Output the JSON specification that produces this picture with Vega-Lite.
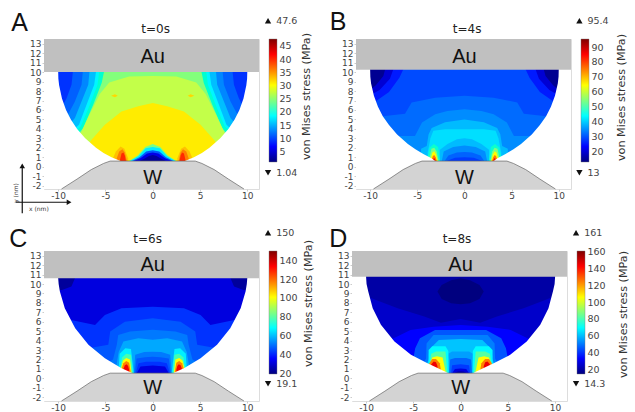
{"$schema":"https://vega.github.io/schema/vega-lite/v6.json","padding":{"left":8,"top":9,"right":0,"bottom":0},"background":"white",
"config":{"font":"DejaVu Sans","view":{"stroke":"#dddddd"},"concat":{"spacing":10},"axis":{"grid":false,"domain":false,"labelOverlap":false,"labelColor":"#444444","labelFontSize":9,"titleFontWeight":"normal","titleColor":"#333333"}},
"resolve":{"scale":{"color":"independent"}},
"datasets":{
"ab":[{"k":1,"v":8,"x":-11,"y":10.5},{"k":1,"v":8,"x":11,"y":10.5},
{"k":2,"v":10.5,"x":-9.6,"y":6.3},{"k":2,"v":10.5,"x":-9.1,"y":7.26},{"k":2,"v":10.5,"x":-8.59,"y":8.67},{"k":2,"v":10.5,"x":-8.4,"y":10.5},{"k":2,"v":10.5,"x":8.4,"y":10.5},{"k":2,"v":10.5,"x":8.59,"y":8.67},{"k":2,"v":10.5,"x":9.1,"y":7.26},{"k":2,"v":10.5,"x":9.6,"y":6.3},
{"k":3,"v":13,"x":-9.2,"y":5.2},{"k":3,"v":13,"x":-8.87,"y":5.68},{"k":3,"v":13,"x":-8.23,"y":6.9},{"k":3,"v":13,"x":-7.53,"y":8.67},{"k":3,"v":13,"x":-7.35,"y":10.5},{"k":3,"v":13,"x":7.35,"y":10.5},{"k":3,"v":13,"x":7.53,"y":8.67},{"k":3,"v":13,"x":8.23,"y":6.9},{"k":3,"v":13,"x":8.87,"y":5.68},{"k":3,"v":13,"x":9.2,"y":5.2},
{"k":4,"v":15.3,"x":-8.7,"y":4.6},{"k":4,"v":15.3,"x":-8.23,"y":5.15},{"k":4,"v":15.3,"x":-7.53,"y":6.9},{"k":4,"v":15.3,"x":-6.82,"y":8.67},{"k":4,"v":15.3,"x":-6.65,"y":10.5},{"k":4,"v":15.3,"x":6.65,"y":10.5},{"k":4,"v":15.3,"x":6.82,"y":8.67},{"k":4,"v":15.3,"x":7.53,"y":6.9},{"k":4,"v":15.3,"x":8.23,"y":5.15},{"k":4,"v":15.3,"x":8.7,"y":4.6},
{"k":5,"v":18,"x":-8.3,"y":4},{"k":5,"v":18,"x":-7.8,"y":4.45},{"k":5,"v":18,"x":-7,"y":6.56},{"k":5,"v":18,"x":-6.19,"y":8.67},{"k":5,"v":18,"x":-5.94,"y":10.5},{"k":5,"v":18,"x":5.94,"y":10.5},{"k":5,"v":18,"x":6.19,"y":8.67},{"k":5,"v":18,"x":7,"y":6.56},{"k":5,"v":18,"x":7.8,"y":4.45},{"k":5,"v":18,"x":8.3,"y":4},
{"k":6,"v":21,"x":-8.1,"y":3.8},{"k":6,"v":21,"x":-7.6,"y":4.27},{"k":6,"v":21,"x":-6.65,"y":6.56},{"k":6,"v":21,"x":-5.84,"y":8.67},{"k":6,"v":21,"x":-5.6,"y":10.5},{"k":6,"v":21,"x":5.6,"y":10.5},{"k":6,"v":21,"x":5.84,"y":8.67},{"k":6,"v":21,"x":6.65,"y":6.56},{"k":6,"v":21,"x":7.6,"y":4.27},{"k":6,"v":21,"x":8.1,"y":3.8},
{"k":7,"v":24.5,"x":-7.9,"y":3.4},{"k":7,"v":24.5,"x":-7.35,"y":4.1},{"k":7,"v":24.5,"x":-6.3,"y":6.56},{"k":7,"v":24.5,"x":-5.4,"y":8.85},{"k":7,"v":24.5,"x":-5.06,"y":10.5},{"k":7,"v":24.5,"x":5.06,"y":10.5},{"k":7,"v":24.5,"x":5.4,"y":8.85},{"k":7,"v":24.5,"x":6.3,"y":6.56},{"k":7,"v":24.5,"x":7.35,"y":4.1},{"k":7,"v":24.5,"x":7.9,"y":3.4},
{"k":8,"v":27.5,"x":-8,"y":3.2},{"k":8,"v":27.5,"x":-7.6,"y":3.6},{"k":8,"v":27.5,"x":-6.7,"y":5.5},{"k":8,"v":27.5,"x":-5.6,"y":7.7},{"k":8,"v":27.5,"x":-4.6,"y":8.9},{"k":8,"v":27.5,"x":-2.5,"y":9.55},{"k":8,"v":27.5,"x":0,"y":9.6},{"k":8,"v":27.5,"x":2.5,"y":9.55},{"k":8,"v":27.5,"x":4.6,"y":8.9},{"k":8,"v":27.5,"x":5.6,"y":7.7},{"k":8,"v":27.5,"x":6.7,"y":5.5},{"k":8,"v":27.5,"x":7.6,"y":3.6},{"k":8,"v":27.5,"x":8,"y":3.2},
{"k":9,"v":31,"x":-7.2,"y":1.8},{"k":9,"v":31,"x":-6.47,"y":2.86},{"k":9,"v":31,"x":-5.06,"y":4.45},{"k":9,"v":31,"x":-3.3,"y":5.85},{"k":9,"v":31,"x":-1.53,"y":6.4},{"k":9,"v":31,"x":0,"y":6.75},{"k":9,"v":31,"x":1.53,"y":6.4},{"k":9,"v":31,"x":3.3,"y":5.85},{"k":9,"v":31,"x":5.06,"y":4.45},{"k":9,"v":31,"x":6.47,"y":2.86},{"k":9,"v":31,"x":7.2,"y":1.8},
{"k":10,"v":24,"x":-2.5,"y":0.6},{"k":10,"v":24,"x":-1.6,"y":1.2},{"k":10,"v":24,"x":-0.8,"y":2.1},{"k":10,"v":24,"x":0,"y":2.4},{"k":10,"v":24,"x":0.8,"y":2.1},{"k":10,"v":24,"x":1.6,"y":1.2},{"k":10,"v":24,"x":2.5,"y":0.6},
{"k":11,"v":17.5,"x":-2.4,"y":0.6},{"k":11,"v":17.5,"x":-1.5,"y":1.15},{"k":11,"v":17.5,"x":-0.75,"y":1.95},{"k":11,"v":17.5,"x":0,"y":2.1},{"k":11,"v":17.5,"x":0.75,"y":1.95},{"k":11,"v":17.5,"x":1.5,"y":1.15},{"k":11,"v":17.5,"x":2.4,"y":0.6},
{"k":12,"v":10,"x":-2.2,"y":0.6},{"k":12,"v":10,"x":-1.4,"y":1},{"k":12,"v":10,"x":-0.7,"y":1.6},{"k":12,"v":10,"x":0,"y":1.75},{"k":12,"v":10,"x":0.7,"y":1.6},{"k":12,"v":10,"x":1.4,"y":1},{"k":12,"v":10,"x":2.2,"y":0.6},
{"k":13,"v":5.8,"x":-2,"y":0.6},{"k":13,"v":5.8,"x":-1.3,"y":0.9},{"k":13,"v":5.8,"x":-0.6,"y":1.4},{"k":13,"v":5.8,"x":0,"y":1.5},{"k":13,"v":5.8,"x":0.6,"y":1.4},{"k":13,"v":5.8,"x":1.3,"y":0.9},{"k":13,"v":5.8,"x":2,"y":0.6},
{"k":14,"v":2.5,"x":-1.4,"y":0.6},{"k":14,"v":2.5,"x":-0.9,"y":0.85},{"k":14,"v":2.5,"x":-0.4,"y":1.15},{"k":14,"v":2.5,"x":0,"y":1.25},{"k":14,"v":2.5,"x":0.4,"y":1.15},{"k":14,"v":2.5,"x":0.9,"y":0.85},{"k":14,"v":2.5,"x":1.4,"y":0.6},
{"k":15,"v":33,"x":-4.2,"y":0.9},{"k":15,"v":33,"x":-3.9,"y":1.6},{"k":15,"v":33,"x":-3.4,"y":2.15},{"k":15,"v":33,"x":-3,"y":1.9},{"k":15,"v":33,"x":-2.6,"y":0.9},
{"k":16,"v":36,"x":-3.8,"y":0.9},{"k":16,"v":36,"x":-3.55,"y":1.6},{"k":16,"v":36,"x":-3.2,"y":1.85},{"k":16,"v":36,"x":-2.95,"y":1.5},{"k":16,"v":36,"x":-2.75,"y":0.7},
{"k":17,"v":41,"x":-3.45,"y":0.8},{"k":17,"v":41,"x":-3.3,"y":1.4},{"k":17,"v":41,"x":-3.1,"y":1.5},{"k":17,"v":41,"x":-2.95,"y":1.2},{"k":17,"v":41,"x":-2.85,"y":0.7},
{"k":18,"v":33,"x":2.6,"y":0.9},{"k":18,"v":33,"x":3,"y":1.9},{"k":18,"v":33,"x":3.4,"y":2.15},{"k":18,"v":33,"x":3.9,"y":1.6},{"k":18,"v":33,"x":4.2,"y":0.9},
{"k":19,"v":36,"x":2.75,"y":0.7},{"k":19,"v":36,"x":2.95,"y":1.5},{"k":19,"v":36,"x":3.2,"y":1.85},{"k":19,"v":36,"x":3.55,"y":1.6},{"k":19,"v":36,"x":3.8,"y":0.9},
{"k":20,"v":41,"x":2.85,"y":0.7},{"k":20,"v":41,"x":2.95,"y":1.2},{"k":20,"v":41,"x":3.1,"y":1.5},{"k":20,"v":41,"x":3.3,"y":1.4},{"k":20,"v":41,"x":3.45,"y":0.8}],
"ai":[{"k":1,"v":32,"x":-4.4,"y":7.5,"b":7.5},{"k":1,"v":32,"x":-4,"y":7.65,"b":7.35},{"k":1,"v":32,"x":-3.7,"y":7.5,"b":7.5},{"k":2,"v":32,"x":3.7,"y":7.5,"b":7.5},{"k":2,"v":32,"x":4,"y":7.65,"b":7.35},{"k":2,"v":32,"x":4.4,"y":7.5,"b":7.5}],
"am":[{"x":-11.5,"y":10.5},{"x":-10.01,"y":10.5},{"x":-10,"y":10},{"x":-9.98,"y":9.3},{"x":-9.9,"y":8.6},{"x":-9.6,"y":7.2},{"x":-9.17,"y":6},{"x":-8.66,"y":5},{"x":-8,"y":4},{"x":-7.14,"y":3},{"x":-6,"y":2},{"x":-5.2,"y":1.46},{"x":-4.36,"y":1},{"x":-3.4,"y":0.6},{"x":3.4,"y":0.6},{"x":4.36,"y":1},{"x":5.2,"y":1.46},{"x":6,"y":2},{"x":7.14,"y":3},{"x":8,"y":4},{"x":8.66,"y":5},{"x":9.17,"y":6},{"x":9.6,"y":7.2},{"x":9.9,"y":8.6},{"x":9.98,"y":9.3},{"x":10,"y":10},{"x":10.01,"y":10.5},{"x":11.24,"y":10.5}],
"bb":[{"k":0,"v":14.6,"x":-11,"y":11},{"k":0,"v":14.6,"x":11,"y":11},
{"k":1,"v":20,"x":-9.9,"y":8.2},{"k":1,"v":20,"x":-9.4,"y":8.6},{"k":1,"v":20,"x":-8.6,"y":9.6},{"k":1,"v":20,"x":-8.3,"y":10.7},{"k":1,"v":20,"x":8.3,"y":10.7},{"k":1,"v":20,"x":8.6,"y":9.6},{"k":1,"v":20,"x":9.4,"y":8.6},{"k":1,"v":20,"x":9.9,"y":8.2},
{"k":2,"v":24,"x":-9.9,"y":7.6},{"k":2,"v":24,"x":-9,"y":8.1},{"k":2,"v":24,"x":-7.9,"y":9.3},{"k":2,"v":24,"x":-7.4,"y":10.7},{"k":2,"v":24,"x":7.4,"y":10.7},{"k":2,"v":24,"x":7.9,"y":9.3},{"k":2,"v":24,"x":9,"y":8.1},{"k":2,"v":24,"x":9.9,"y":7.6},
{"k":3,"v":27.5,"x":-9.6,"y":6.8},{"k":3,"v":27.5,"x":-8,"y":7.9},{"k":3,"v":27.5,"x":-6.9,"y":9.4},{"k":3,"v":27.5,"x":-6.3,"y":10.7},{"k":3,"v":27.5,"x":6.3,"y":10.7},{"k":3,"v":27.5,"x":6.9,"y":9.4},{"k":3,"v":27.5,"x":8,"y":7.9},{"k":3,"v":27.5,"x":9.6,"y":6.8},
{"k":4,"v":31,"x":-9,"y":5.3},{"k":4,"v":31,"x":-8.44,"y":5.37},{"k":4,"v":31,"x":-6.3,"y":5.6},{"k":4,"v":31,"x":-5.6,"y":6.8},{"k":4,"v":31,"x":-3.1,"y":7.3},{"k":4,"v":31,"x":0,"y":7.5},{"k":4,"v":31,"x":3.1,"y":7.3},{"k":4,"v":31,"x":5.6,"y":6.8},{"k":4,"v":31,"x":6.3,"y":5.6},{"k":4,"v":31,"x":8.44,"y":5.37},{"k":4,"v":31,"x":9,"y":5.3},
{"k":5,"v":34.5,"x":-7.4,"y":3.2},{"k":5,"v":34.5,"x":-6.7,"y":3.26},{"k":5,"v":34.5,"x":-5.25,"y":3.26},{"k":5,"v":34.5,"x":-4.5,"y":4.67},{"k":5,"v":34.5,"x":-3.1,"y":5.55},{"k":5,"v":34.5,"x":-1.8,"y":5.9},{"k":5,"v":34.5,"x":0,"y":6.07},{"k":5,"v":34.5,"x":1.8,"y":5.9},{"k":5,"v":34.5,"x":3.1,"y":5.55},{"k":5,"v":34.5,"x":4.5,"y":4.67},{"k":5,"v":34.5,"x":5.25,"y":3.26},{"k":5,"v":34.5,"x":6.7,"y":3.26},{"k":5,"v":34.5,"x":7.4,"y":3.2},
{"k":6,"v":38,"x":-4.6,"y":1.9},{"k":6,"v":38,"x":-4,"y":2.2},{"k":6,"v":38,"x":-3.8,"y":3.43},{"k":6,"v":38,"x":-3.47,"y":4.1},{"k":6,"v":38,"x":-2.05,"y":4.7},{"k":6,"v":38,"x":0,"y":5},{"k":6,"v":38,"x":2.05,"y":4.7},{"k":6,"v":38,"x":3.47,"y":4.1},{"k":6,"v":38,"x":3.8,"y":3.43},{"k":6,"v":38,"x":4,"y":2.2},{"k":6,"v":38,"x":4.6,"y":1.9},
{"k":7,"v":41,"x":-3.9,"y":1.5},{"k":7,"v":41,"x":-3.6,"y":3},{"k":7,"v":41,"x":-3.3,"y":3.8},{"k":7,"v":41,"x":-2.05,"y":3.96},{"k":7,"v":41,"x":0,"y":3.97},{"k":7,"v":41,"x":2.05,"y":3.96},{"k":7,"v":41,"x":3.3,"y":3.8},{"k":7,"v":41,"x":3.6,"y":3},{"k":7,"v":41,"x":3.9,"y":1.5},
{"k":8,"v":38,"x":-2.62,"y":0.6},{"k":8,"v":38,"x":-2.6,"y":1.8},{"k":8,"v":38,"x":-1.8,"y":2.4},{"k":8,"v":38,"x":-0.8,"y":2.9},{"k":8,"v":38,"x":0,"y":3},{"k":8,"v":38,"x":0.8,"y":2.9},{"k":8,"v":38,"x":1.8,"y":2.4},{"k":8,"v":38,"x":2.6,"y":1.8},{"k":8,"v":38,"x":2.62,"y":0.6},
{"k":9,"v":34.5,"x":-2.4,"y":0.6},{"k":9,"v":34.5,"x":-2.2,"y":1.6},{"k":9,"v":34.5,"x":-1.2,"y":2.1},{"k":9,"v":34.5,"x":0,"y":2.25},{"k":9,"v":34.5,"x":1.2,"y":2.1},{"k":9,"v":34.5,"x":2.2,"y":1.6},{"k":9,"v":34.5,"x":2.4,"y":0.6},
{"k":10,"v":30,"x":-2.1,"y":0.6},{"k":10,"v":30,"x":-1.7,"y":1.2},{"k":10,"v":30,"x":-0.8,"y":1.5},{"k":10,"v":30,"x":0,"y":1.55},{"k":10,"v":30,"x":0.8,"y":1.5},{"k":10,"v":30,"x":1.7,"y":1.2},{"k":10,"v":30,"x":2.1,"y":0.6},
{"k":11,"v":26,"x":-1.9,"y":0.6},{"k":11,"v":26,"x":-1,"y":0.95},{"k":11,"v":26,"x":0,"y":1},{"k":11,"v":26,"x":1,"y":0.95},{"k":11,"v":26,"x":1.9,"y":0.6},
{"k":12,"v":48.5,"x":-3.9,"y":1},{"k":12,"v":48.5,"x":-3.7,"y":2},{"k":12,"v":48.5,"x":-3.25,"y":2.4},{"k":12,"v":48.5,"x":-2.8,"y":2.1},{"k":12,"v":48.5,"x":-2.6,"y":0.7},
{"k":13,"v":54,"x":-3.7,"y":1},{"k":13,"v":54,"x":-3.5,"y":1.9},{"k":13,"v":54,"x":-3.2,"y":2},{"k":13,"v":54,"x":-2.95,"y":1.6},{"k":13,"v":54,"x":-2.75,"y":0.7},
{"k":14,"v":64.5,"x":-3.6,"y":0.8},{"k":14,"v":64.5,"x":-3.4,"y":1.5},{"k":14,"v":64.5,"x":-3.2,"y":1.65},{"k":14,"v":64.5,"x":-3,"y":1.3},{"k":14,"v":64.5,"x":-2.85,"y":0.7},
{"k":15,"v":75,"x":-3.5,"y":0.7},{"k":15,"v":75,"x":-3.35,"y":1.15},{"k":15,"v":75,"x":-3.2,"y":1.25},{"k":15,"v":75,"x":-3.05,"y":1},{"k":15,"v":75,"x":-2.95,"y":0.7},
{"k":16,"v":85,"x":-3.35,"y":0.7},{"k":16,"v":85,"x":-3.22,"y":0.95},{"k":16,"v":85,"x":-3.08,"y":0.75},
{"k":17,"v":48.5,"x":2.6,"y":0.7},{"k":17,"v":48.5,"x":2.8,"y":2.1},{"k":17,"v":48.5,"x":3.25,"y":2.4},{"k":17,"v":48.5,"x":3.7,"y":2},{"k":17,"v":48.5,"x":3.9,"y":1},
{"k":18,"v":54,"x":2.75,"y":0.7},{"k":18,"v":54,"x":2.95,"y":1.6},{"k":18,"v":54,"x":3.2,"y":2},{"k":18,"v":54,"x":3.5,"y":1.9},{"k":18,"v":54,"x":3.7,"y":1},
{"k":19,"v":64.5,"x":2.85,"y":0.7},{"k":19,"v":64.5,"x":3,"y":1.3},{"k":19,"v":64.5,"x":3.2,"y":1.65},{"k":19,"v":64.5,"x":3.4,"y":1.5},{"k":19,"v":64.5,"x":3.6,"y":0.8},
{"k":20,"v":75,"x":2.95,"y":0.7},{"k":20,"v":75,"x":3.05,"y":1},{"k":20,"v":75,"x":3.2,"y":1.25},{"k":20,"v":75,"x":3.35,"y":1.15},{"k":20,"v":75,"x":3.5,"y":0.7},
{"k":21,"v":85,"x":3.08,"y":0.75},{"k":21,"v":85,"x":3.22,"y":0.95},{"k":21,"v":85,"x":3.35,"y":0.7}],
"bm":[{"x":-11.5,"y":10.8},{"x":-10.01,"y":10.8},{"x":-10,"y":10.25},{"x":-9.98,"y":9.5},{"x":-9.9,"y":8.8},{"x":-9.6,"y":7.5},{"x":-9.17,"y":6.35},{"x":-8.66,"y":5.35},{"x":-8,"y":4.4},{"x":-7.14,"y":3.4},{"x":-6,"y":2.4},{"x":-5.2,"y":1.85},{"x":-4.36,"y":1.35},{"x":-3.5,"y":0.9},{"x":-3.1,"y":0.6},{"x":3.1,"y":0.6},{"x":3.5,"y":0.9},{"x":4.36,"y":1.35},{"x":5.2,"y":1.85},{"x":6,"y":2.4},{"x":7.14,"y":3.4},{"x":8,"y":4.4},{"x":8.66,"y":5.35},{"x":9.17,"y":6.35},{"x":9.6,"y":7.5},{"x":9.9,"y":8.8},{"x":9.98,"y":9.5},{"x":10,"y":10.25},{"x":10.01,"y":10.8},{"x":11.3,"y":10.8}],
"cb":[{"k":0,"v":23,"x":-11,"y":11},{"k":0,"v":23,"x":11,"y":11},
{"k":1,"v":31.5,"x":-10.2,"y":9.3},{"k":1,"v":31.5,"x":-9.6,"y":9.37},{"k":1,"v":31.5,"x":-8.6,"y":9.75},{"k":1,"v":31.5,"x":-8.06,"y":11},{"k":1,"v":31.5,"x":8.06,"y":11},{"k":1,"v":31.5,"x":8.6,"y":9.75},{"k":1,"v":31.5,"x":9.6,"y":9.37},{"k":1,"v":31.5,"x":10.2,"y":9.3},
{"k":2,"v":38.7,"x":-9.2,"y":6.2},{"k":2,"v":38.7,"x":-8.76,"y":6.2},{"k":2,"v":38.7,"x":-6.1,"y":5.66},{"k":2,"v":38.7,"x":-5.06,"y":6.72},{"k":2,"v":38.7,"x":-3.3,"y":7.43},{"k":2,"v":38.7,"x":0,"y":7.6},{"k":2,"v":38.7,"x":3.3,"y":7.43},{"k":2,"v":38.7,"x":5.06,"y":6.72},{"k":2,"v":38.7,"x":6.1,"y":5.66},{"k":2,"v":38.7,"x":8.76,"y":6.2},{"k":2,"v":38.7,"x":9.2,"y":6.2},
{"k":3,"v":44,"x":-7.2,"y":3.1},{"k":3,"v":44,"x":-6.8,"y":3.2},{"k":3,"v":44,"x":-4.7,"y":3.55},{"k":3,"v":44,"x":-4.5,"y":4.96},{"k":3,"v":44,"x":-2.95,"y":6},{"k":3,"v":44,"x":0,"y":6.37},{"k":3,"v":44,"x":2.95,"y":6},{"k":3,"v":44,"x":4.5,"y":4.96},{"k":3,"v":44,"x":4.7,"y":3.55},{"k":3,"v":44,"x":6.8,"y":3.2},{"k":3,"v":44,"x":7.2,"y":3.1},
{"k":4,"v":50.5,"x":-4.7,"y":1.7},{"k":4,"v":50.5,"x":-4.2,"y":2},{"k":4,"v":50.5,"x":-3.8,"y":3.55},{"k":4,"v":50.5,"x":-3.65,"y":4.6},{"k":4,"v":50.5,"x":-2.4,"y":4.96},{"k":4,"v":50.5,"x":0,"y":5.14},{"k":4,"v":50.5,"x":2.4,"y":4.96},{"k":4,"v":50.5,"x":3.65,"y":4.6},{"k":4,"v":50.5,"x":3.8,"y":3.55},{"k":4,"v":50.5,"x":4.2,"y":2},{"k":4,"v":50.5,"x":4.7,"y":1.7},
{"k":5,"v":56.4,"x":-3.9,"y":1},{"k":5,"v":56.4,"x":-3.6,"y":2.8},{"k":5,"v":56.4,"x":-3.1,"y":3.9},{"k":5,"v":56.4,"x":-1.53,"y":4.25},{"k":5,"v":56.4,"x":0,"y":4.08},{"k":5,"v":56.4,"x":1.53,"y":4.25},{"k":5,"v":56.4,"x":3.1,"y":3.9},{"k":5,"v":56.4,"x":3.6,"y":2.8},{"k":5,"v":56.4,"x":3.9,"y":1},
{"k":6,"v":50.5,"x":-2,"y":0.55},{"k":6,"v":50.5,"x":-1.85,"y":2.5},{"k":6,"v":50.5,"x":-0.9,"y":2.8},{"k":6,"v":50.5,"x":0,"y":2.83},{"k":6,"v":50.5,"x":0.9,"y":2.8},{"k":6,"v":50.5,"x":1.85,"y":2.5},{"k":6,"v":50.5,"x":2,"y":0.55},
{"k":7,"v":44,"x":-1.9,"y":0.55},{"k":7,"v":44,"x":-1.7,"y":2.1},{"k":7,"v":44,"x":-0.8,"y":2.25},{"k":7,"v":44,"x":0,"y":2.3},{"k":7,"v":44,"x":0.8,"y":2.25},{"k":7,"v":44,"x":1.7,"y":2.1},{"k":7,"v":44,"x":1.9,"y":0.55},
{"k":8,"v":38.7,"x":-1.8,"y":0.55},{"k":8,"v":38.7,"x":-1.5,"y":1.6},{"k":8,"v":38.7,"x":-0.7,"y":1.75},{"k":8,"v":38.7,"x":0,"y":1.77},{"k":8,"v":38.7,"x":0.7,"y":1.75},{"k":8,"v":38.7,"x":1.5,"y":1.6},{"k":8,"v":38.7,"x":1.8,"y":0.55},
{"k":9,"v":31.5,"x":-1.7,"y":0.55},{"k":9,"v":31.5,"x":-1.3,"y":1.25},{"k":9,"v":31.5,"x":0,"y":1.35},{"k":9,"v":31.5,"x":1.3,"y":1.25},{"k":9,"v":31.5,"x":1.7,"y":0.55},
{"k":10,"v":66,"x":-3.6,"y":1},{"k":10,"v":66,"x":-3.5,"y":2.6},{"k":10,"v":66,"x":-2.9,"y":3.2},{"k":10,"v":66,"x":-2.3,"y":3.1},{"k":10,"v":66,"x":-2,"y":0.55},
{"k":11,"v":79,"x":-3.4,"y":1.2},{"k":11,"v":79,"x":-3.25,"y":2.2},{"k":11,"v":79,"x":-2.8,"y":2.6},{"k":11,"v":79,"x":-2.3,"y":2.5},{"k":11,"v":79,"x":-2.1,"y":0.6},
{"k":12,"v":101,"x":-3.35,"y":1.1},{"k":12,"v":101,"x":-3.15,"y":1.9},{"k":12,"v":101,"x":-2.8,"y":2.15},{"k":12,"v":101,"x":-2.4,"y":2},{"k":12,"v":101,"x":-2.25,"y":0.7},
{"k":13,"v":117,"x":-3.3,"y":1},{"k":13,"v":117,"x":-3.1,"y":1.6},{"k":13,"v":117,"x":-2.8,"y":1.85},{"k":13,"v":117,"x":-2.5,"y":1.65},{"k":13,"v":117,"x":-2.35,"y":0.8},
{"k":14,"v":135,"x":-3.1,"y":1},{"k":14,"v":135,"x":-2.95,"y":1.4},{"k":14,"v":135,"x":-2.75,"y":1.5},{"k":14,"v":135,"x":-2.6,"y":1.3},{"k":14,"v":135,"x":-2.5,"y":0.9},
{"k":15,"v":66,"x":2,"y":0.55},{"k":15,"v":66,"x":2.3,"y":3.1},{"k":15,"v":66,"x":2.9,"y":3.2},{"k":15,"v":66,"x":3.5,"y":2.6},{"k":15,"v":66,"x":3.6,"y":1},
{"k":16,"v":79,"x":2.1,"y":0.6},{"k":16,"v":79,"x":2.3,"y":2.5},{"k":16,"v":79,"x":2.8,"y":2.6},{"k":16,"v":79,"x":3.25,"y":2.2},{"k":16,"v":79,"x":3.4,"y":1.2},
{"k":17,"v":101,"x":2.25,"y":0.7},{"k":17,"v":101,"x":2.4,"y":2},{"k":17,"v":101,"x":2.8,"y":2.15},{"k":17,"v":101,"x":3.15,"y":1.9},{"k":17,"v":101,"x":3.35,"y":1.1},
{"k":18,"v":117,"x":2.35,"y":0.8},{"k":18,"v":117,"x":2.5,"y":1.65},{"k":18,"v":117,"x":2.8,"y":1.85},{"k":18,"v":117,"x":3.1,"y":1.6},{"k":18,"v":117,"x":3.3,"y":1},
{"k":19,"v":135,"x":2.5,"y":0.9},{"k":19,"v":135,"x":2.6,"y":1.3},{"k":19,"v":135,"x":2.75,"y":1.5},{"k":19,"v":135,"x":2.95,"y":1.4},{"k":19,"v":135,"x":3.1,"y":1}],
"cm":[{"x":-11.5,"y":11},{"x":-10.01,"y":11},{"x":-10,"y":10.6},{"x":-9.95,"y":10},{"x":-9.82,"y":9.2},{"x":-9.3,"y":7.43},{"x":-8.2,"y":5.3},{"x":-6.8,"y":3.55},{"x":-5.06,"y":2.14},{"x":-3.3,"y":1.07},{"x":-2.1,"y":0.55},{"x":2.1,"y":0.55},{"x":3.3,"y":1.07},{"x":5.06,"y":2.14},{"x":6.8,"y":3.55},{"x":8.2,"y":5.3},{"x":9.3,"y":7.43},{"x":9.82,"y":9.2},{"x":9.95,"y":10},{"x":10,"y":10.6},{"x":10.01,"y":11},{"x":11.24,"y":11}],
"db":[{"k":0,"v":20,"x":-11,"y":11.2},{"k":0,"v":20,"x":11,"y":11.2},
{"k":1,"v":25.3,"x":-9.9,"y":8.7},{"k":1,"v":25.3,"x":-8.95,"y":8.3},{"k":1,"v":25.3,"x":-6.66,"y":7.43},{"k":1,"v":25.3,"x":-3.84,"y":6.55},{"k":1,"v":25.3,"x":-2.08,"y":5.9},{"k":1,"v":25.3,"x":0,"y":6.3},{"k":1,"v":25.3,"x":2.08,"y":5.9},{"k":1,"v":25.3,"x":3.84,"y":6.55},{"k":1,"v":25.3,"x":6.66,"y":7.43},{"k":1,"v":25.3,"x":8.95,"y":8.3},{"k":1,"v":25.3,"x":9.9,"y":8.7},
{"k":2,"v":32.6,"x":-8,"y":3.7},{"k":2,"v":32.6,"x":-7.46,"y":4.07},{"k":2,"v":32.6,"x":-5.3,"y":5.13},{"k":2,"v":32.6,"x":-2.86,"y":5.48},{"k":2,"v":32.6,"x":0,"y":5.66},{"k":2,"v":32.6,"x":2.86,"y":5.48},{"k":2,"v":32.6,"x":5.3,"y":5.13},{"k":2,"v":32.6,"x":7.46,"y":4.07},{"k":2,"v":32.6,"x":8,"y":3.7},
{"k":3,"v":42,"x":-5.5,"y":1.8},{"k":3,"v":42,"x":-5,"y":2.1},{"k":3,"v":42,"x":-4.8,"y":3.2},{"k":3,"v":42,"x":-4.3,"y":4.25},{"k":3,"v":42,"x":-2.7,"y":5.13},{"k":3,"v":42,"x":0,"y":5.13},{"k":3,"v":42,"x":2.7,"y":5.13},{"k":3,"v":42,"x":4.3,"y":4.25},{"k":3,"v":42,"x":4.8,"y":3.2},{"k":3,"v":42,"x":5,"y":2.1},{"k":3,"v":42,"x":5.5,"y":1.8},
{"k":4,"v":51,"x":-4,"y":1.4},{"k":4,"v":51,"x":-3.65,"y":2.1},{"k":4,"v":51,"x":-3.6,"y":3.7},{"k":4,"v":51,"x":-2.86,"y":4.6},{"k":4,"v":51,"x":0,"y":4.6},{"k":4,"v":51,"x":2.86,"y":4.6},{"k":4,"v":51,"x":3.6,"y":3.7},{"k":4,"v":51,"x":3.65,"y":2.1},{"k":4,"v":51,"x":4,"y":1.4},
{"k":5,"v":60,"x":-3.6,"y":1.5},{"k":5,"v":60,"x":-3.3,"y":2.1},{"k":5,"v":60,"x":-3,"y":3.37},{"k":5,"v":60,"x":-2.3,"y":4.07},{"k":5,"v":60,"x":0,"y":4.18},{"k":5,"v":60,"x":2.3,"y":4.07},{"k":5,"v":60,"x":3,"y":3.37},{"k":5,"v":60,"x":3.3,"y":2.1},{"k":5,"v":60,"x":3.6,"y":1.5},
{"k":6,"v":55,"x":-1.32,"y":0.55},{"k":6,"v":55,"x":-1.3,"y":2.6},{"k":6,"v":55,"x":-0.9,"y":2.85},{"k":6,"v":55,"x":0,"y":2.85},{"k":6,"v":55,"x":0.9,"y":2.85},{"k":6,"v":55,"x":1.3,"y":2.6},{"k":6,"v":55,"x":1.32,"y":0.55},
{"k":7,"v":45,"x":-1.2,"y":0.55},{"k":7,"v":45,"x":-1.1,"y":2},{"k":7,"v":45,"x":-0.6,"y":2.15},{"k":7,"v":45,"x":0,"y":2.15},{"k":7,"v":45,"x":0.6,"y":2.15},{"k":7,"v":45,"x":1.1,"y":2},{"k":7,"v":45,"x":1.2,"y":0.55},
{"k":8,"v":37,"x":-1,"y":0.55},{"k":8,"v":37,"x":-0.9,"y":1.4},{"k":8,"v":37,"x":0,"y":1.5},{"k":8,"v":37,"x":0.9,"y":1.4},{"k":8,"v":37,"x":1,"y":0.55},
{"k":9,"v":28,"x":-0.9,"y":0.55},{"k":9,"v":28,"x":-0.6,"y":1},{"k":9,"v":28,"x":0,"y":1.05},{"k":9,"v":28,"x":0.6,"y":1},{"k":9,"v":28,"x":0.9,"y":0.55},
{"k":10,"v":20,"x":-0.7,"y":0.55},{"k":10,"v":20,"x":-0.3,"y":0.72},{"k":10,"v":20,"x":0,"y":0.75},{"k":10,"v":20,"x":0.3,"y":0.72},{"k":10,"v":20,"x":0.7,"y":0.55},
{"k":11,"v":69,"x":-3.4,"y":1.5},{"k":11,"v":69,"x":-3.38,"y":3},{"k":11,"v":69,"x":-3,"y":3.4},{"k":11,"v":69,"x":-1.6,"y":3.4},{"k":11,"v":69,"x":-1.3,"y":2.9},{"k":11,"v":69,"x":-1.25,"y":0.55},
{"k":12,"v":83,"x":-3.3,"y":1.5},{"k":12,"v":83,"x":-3.1,"y":2.6},{"k":12,"v":83,"x":-2.6,"y":2.85},{"k":12,"v":83,"x":-1.6,"y":2.85},{"k":12,"v":83,"x":-1.4,"y":0.55},
{"k":13,"v":106,"x":-3.2,"y":1.5},{"k":13,"v":106,"x":-3,"y":2.2},{"k":13,"v":106,"x":-2.5,"y":2.35},{"k":13,"v":106,"x":-1.9,"y":2.2},{"k":13,"v":106,"x":-1.55,"y":0.55},
{"k":14,"v":124,"x":-3.3,"y":1.6},{"k":14,"v":124,"x":-3,"y":2.05},{"k":14,"v":124,"x":-2.6,"y":2.05},{"k":14,"v":124,"x":-2.2,"y":1.6},{"k":14,"v":124,"x":-2.1,"y":1},
{"k":15,"v":145,"x":-3.1,"y":1.5},{"k":15,"v":145,"x":-2.85,"y":1.8},{"k":15,"v":145,"x":-2.6,"y":1.7},{"k":15,"v":145,"x":-2.45,"y":1.3},
{"k":16,"v":69,"x":1.25,"y":0.55},{"k":16,"v":69,"x":1.3,"y":2.9},{"k":16,"v":69,"x":1.6,"y":3.4},{"k":16,"v":69,"x":3,"y":3.4},{"k":16,"v":69,"x":3.38,"y":3},{"k":16,"v":69,"x":3.4,"y":1.5},
{"k":17,"v":83,"x":1.4,"y":0.55},{"k":17,"v":83,"x":1.6,"y":2.85},{"k":17,"v":83,"x":2.6,"y":2.85},{"k":17,"v":83,"x":3.1,"y":2.6},{"k":17,"v":83,"x":3.3,"y":1.5},
{"k":18,"v":106,"x":1.55,"y":0.55},{"k":18,"v":106,"x":1.9,"y":2.2},{"k":18,"v":106,"x":2.5,"y":2.35},{"k":18,"v":106,"x":3,"y":2.2},{"k":18,"v":106,"x":3.2,"y":1.5},
{"k":19,"v":124,"x":2.1,"y":1},{"k":19,"v":124,"x":2.2,"y":1.6},{"k":19,"v":124,"x":2.6,"y":2.05},{"k":19,"v":124,"x":3,"y":2.05},{"k":19,"v":124,"x":3.3,"y":1.6},
{"k":20,"v":145,"x":2.45,"y":1.3},{"k":20,"v":145,"x":2.6,"y":1.7},{"k":20,"v":145,"x":2.85,"y":1.8},{"k":20,"v":145,"x":3.1,"y":1.5}],
"di":[{"k":1,"v":14.3,"x":-2.45,"y":9.2,"b":9.2},{"k":1,"v":14.3,"x":-2,"y":9.9,"b":8.4},{"k":1,"v":14.3,"x":-1,"y":10.4,"b":7.95},{"k":1,"v":14.3,"x":0,"y":10.6,"b":7.85},{"k":1,"v":14.3,"x":1,"y":10.4,"b":7.95},{"k":1,"v":14.3,"x":2,"y":9.9,"b":8.4},{"k":1,"v":14.3,"x":2.45,"y":9.2,"b":9.2}],
"dm":[{"x":-11.49,"y":11.2},{"x":-10.01,"y":11.2},{"x":-10,"y":10.77},{"x":-9.95,"y":10},{"x":-9.77,"y":9.2},{"x":-9.3,"y":7.43},{"x":-8.43,"y":5.67},{"x":-7,"y":3.9},{"x":-5.25,"y":2.5},{"x":-3.5,"y":1.6},{"x":-1.27,"y":0.55},{"x":1.27,"y":0.55},{"x":3.5,"y":1.6},{"x":5.25,"y":2.5},{"x":7,"y":3.9},{"x":8.43,"y":5.67},{"x":9.3,"y":7.43},{"x":9.77,"y":9.2},{"x":9.95,"y":10},{"x":10,"y":10.77},{"x":10.01,"y":11.2},{"x":11.26,"y":11.2}],
"w1":[{"x":-9.65,"y":-2.35},{"x":-8,"y":-1.3},{"x":-6.5,"y":-0.3},{"x":-5.2,"y":0.35},{"x":-4.5,"y":0.6},{"x":4.5,"y":0.6},{"x":5.2,"y":0.35},{"x":6.5,"y":-0.3},{"x":8,"y":-1.3},{"x":9.65,"y":-2.35}],
"w2":[{"x":-9.65,"y":-2.4},{"x":-8,"y":-1.35},{"x":-6.5,"y":-0.35},{"x":-5.2,"y":0.3},{"x":-4.5,"y":0.55},{"x":4.5,"y":0.55},{"x":5.2,"y":0.3},{"x":6.5,"y":-0.35},{"x":8,"y":-1.35},{"x":9.65,"y":-2.4}]
},
"vconcat":[
{"hconcat":[
{"width":215,"height":150,
"encoding":{"x":{"field":"x","type":"quantitative","title":null,"scale":{"domain":[-11.5,11.24],"nice":false,"zero":false},"axis":{"values":[-10,-5,0,5,10],"tickSize":2,"tickColor":"#cccccc","labelPadding":0,"labelExpr":"replace(datum.label,'−','-')"}},"y":{"field":"y","type":"quantitative","title":null,"scale":{"domain":[-2.35,13.5],"nice":false,"zero":false},"axis":{"values":[-2,-1,0,1,2,3,4,5,6,7,8,9,10,11,12,13],"tickSize":2,"tickColor":"#cccccc","labelPadding":1,"labelExpr":"replace(datum.label,'−','-')"}}},
"layer":[
{"data":{"name":"ab"},"mark":{"type":"area","orient":"vertical"},"encoding":{"y2":{"datum":0},"detail":{"field":"k"},"color":{"field":"v","type":"quantitative","legend":null,"scale":{"domain":[1.04,47.6],"range":["#00007f","#0000ff","#007fff","#00ffff","#7fff7f","#ffff00","#ff7f00","#ff0000","#7f0000"]}}}},
{"data":{"name":"ai"},"mark":{"type":"area","orient":"vertical"},"encoding":{"y2":{"field":"b"},"detail":{"field":"k"},"color":{"field":"v","type":"quantitative","legend":null}}},
{"data":{"name":"am"},"mark":{"type":"area","orient":"vertical","fill":"white"},"encoding":{"y2":{"datum":-2.35}}},
{"data":{"values":[{"x":-11.5,"x2":11.24,"y":10,"y2":13.5}]},"mark":{"type":"rect","fill":"#c0c0c0"},"encoding":{"x2":{"field":"x2"},"y2":{"field":"y2"}}},
{"data":{"name":"w1"},"mark":{"type":"area","orient":"vertical","fill":"#c0c0c0","line":{"color":"#666666","strokeWidth":0.7}},"encoding":{"y2":{"datum":-2.35}}},
{"data":{"values":[{"x":0,"y":11.63,"t":"Au"},{"x":0,"y":-1.15,"t":"W"}]},"mark":{"type":"text","font":"Liberation Sans","fontSize":20,"color":"#111111"},"encoding":{"text":{"field":"t"}}},
{"data":{"values":[{"x":-14.08,"y":15.2,"t":"A"}]},"mark":{"type":"text","font":"Liberation Sans","fontSize":25,"color":"#111111"},"encoding":{"text":{"field":"t"}}},
{"data":{"values":[{"x":0.3,"y":14.52,"t":"t=0s"}]},"mark":{"type":"text","fontSize":12,"color":"#222222"},"encoding":{"text":{"field":"t"}}},
{"data":{"values":[{"x":-13.8,"y":0,"y2":-4.9}]},"mark":{"type":"rule","color":"#111111","strokeWidth":1.2},"encoding":{"y2":{"field":"y2"}}},
{"data":{"values":[{"x":-14.5,"x2":-8.94,"y":-3.75}]},"mark":{"type":"rule","color":"#111111","strokeWidth":1.2},"encoding":{"x2":{"field":"x2"}}},
{"data":{"values":[{"x":-13.8,"y":0.1}]},"mark":{"type":"point","shape":"triangle-up","filled":true,"size":30,"color":"#111111","opacity":1}},
{"data":{"values":[{"x":-8.85,"y":-3.75}]},"mark":{"type":"point","shape":"triangle-right","filled":true,"size":30,"color":"#111111","opacity":1}},
{"data":{"values":[{"x":-14.5,"y":-2.77,"t":"y (nm)"}]},"mark":{"type":"text","fontSize":6,"angle":270,"color":"#333333"},"encoding":{"text":{"field":"t"}}},
{"data":{"values":[{"x":-12.04,"y":-4.46,"t":"x (nm)"}]},"mark":{"type":"text","fontSize":6,"color":"#333333"},"encoding":{"text":{"field":"t"}}}
]},
{"width":8,"height":123,"view":{"stroke":null},"layer":[
{"data":{"values":[{"lo":1.04,"hi":47.6}]},"mark":{"type":"rect","stroke":"#777777","strokeWidth":0.4,"fill":{"gradient":"linear","x1":0,"y1":1,"x2":0,"y2":0,"stops":[{"offset":0,"color":"#00007f"},{"offset":0.125,"color":"#0000ff"},{"offset":0.25,"color":"#007fff"},{"offset":0.375,"color":"#00ffff"},{"offset":0.5,"color":"#7fff7f"},{"offset":0.625,"color":"#ffff00"},{"offset":0.75,"color":"#ff7f00"},{"offset":0.875,"color":"#ff0000"},{"offset":1,"color":"#7f0000"}]}},"encoding":{"x":{"datum":0,"type":"quantitative","scale":{"domain":[0,1]},"axis":null},"x2":{"datum":1},"y":{"field":"hi","type":"quantitative","scale":{"domain":[1.04,47.6],"nice":false,"zero":false},"axis":{"orient":"right","values":[5,10,15,20,25,30,35,40,45],"tickCount":20,"labelOverlap":false,"labelFontSize":9.5,"tickSize":0,"labelPadding":2,"title":"von Mises stress (MPa)","titleFontSize":11.2,"titleAngle":270,"titleBaseline":"middle","titleX":29,"titleY":57}},"y2":{"field":"lo"}}},
{"data":{"values":[{"t":"47.6","m":54.5,"d":"triangle-up"},{"t":"1.04","m":-3,"d":"triangle-down"}]},"mark":{"type":"point","filled":true,"size":40,"color":"#111111","opacity":1},"encoding":{"x":{"datum":-0.12,"type":"quantitative"},"y":{"field":"m","type":"quantitative"},"shape":{"field":"d","type":"nominal","scale":null}}},
{"data":{"values":[{"t":"47.6","m":54.5},{"t":"1.04","m":-3}]},"mark":{"type":"text","align":"left","fontSize":9.5,"color":"#444444"},"encoding":{"x":{"datum":0.9,"type":"quantitative"},"y":{"field":"m","type":"quantitative"},"text":{"field":"t"}}}
]},
{"width":59,"height":150,"view":{"stroke":null},"data":{"values":[{"a":0}]},"mark":{"type":"point","opacity":0},"encoding":{}},
{"width":215,"height":150,
"encoding":{"x":{"field":"x","type":"quantitative","title":null,"scale":{"domain":[-11.5,11.3],"nice":false,"zero":false},"axis":{"values":[-10,-5,0,5,10],"tickSize":2,"tickColor":"#cccccc","labelPadding":0,"labelExpr":"replace(datum.label,'−','-')"}},"y":{"field":"y","type":"quantitative","title":null,"scale":{"domain":[-2.35,13.5],"nice":false,"zero":false},"axis":{"values":[-2,-1,0,1,2,3,4,5,6,7,8,9,10,11,12,13],"tickSize":2,"tickColor":"#cccccc","labelPadding":1,"labelExpr":"replace(datum.label,'−','-')"}}},
"layer":[
{"data":{"name":"bb"},"mark":{"type":"area","orient":"vertical"},"encoding":{"y2":{"datum":0},"detail":{"field":"k"},"color":{"field":"v","type":"quantitative","legend":null,"scale":{"domain":[13,95.4],"range":["#00007f","#0000ff","#007fff","#00ffff","#7fff7f","#ffff00","#ff7f00","#ff0000","#7f0000"]}}}},
{"data":{"name":"bm"},"mark":{"type":"area","orient":"vertical","fill":"white"},"encoding":{"y2":{"datum":-2.35}}},
{"data":{"values":[{"x":-11.5,"x2":11.3,"y":10.25,"y2":13.5}]},"mark":{"type":"rect","fill":"#c0c0c0"},"encoding":{"x2":{"field":"x2"},"y2":{"field":"y2"}}},
{"data":{"name":"w1"},"mark":{"type":"area","orient":"vertical","fill":"#c0c0c0","line":{"color":"#666666","strokeWidth":0.7}},"encoding":{"y2":{"datum":-2.35}}},
{"data":{"values":[{"x":0,"y":11.63,"t":"Au"},{"x":0,"y":-1.15,"t":"W"}]},"mark":{"type":"text","font":"Liberation Sans","fontSize":20,"color":"#111111"},"encoding":{"text":{"field":"t"}}},
{"data":{"values":[{"x":-13.4,"y":15.3,"t":"B"}]},"mark":{"type":"text","font":"Liberation Sans","fontSize":25,"color":"#111111"},"encoding":{"text":{"field":"t"}}},
{"data":{"values":[{"x":0.29,"y":14.52,"t":"t=4s"}]},"mark":{"type":"text","fontSize":12,"color":"#222222"},"encoding":{"text":{"field":"t"}}}
]},
{"width":8,"height":123,"view":{"stroke":null},"layer":[
{"data":{"values":[{"lo":13,"hi":95.4}]},"mark":{"type":"rect","stroke":"#777777","strokeWidth":0.4,"fill":{"gradient":"linear","x1":0,"y1":1,"x2":0,"y2":0,"stops":[{"offset":0,"color":"#00007f"},{"offset":0.125,"color":"#0000ff"},{"offset":0.25,"color":"#007fff"},{"offset":0.375,"color":"#00ffff"},{"offset":0.5,"color":"#7fff7f"},{"offset":0.625,"color":"#ffff00"},{"offset":0.75,"color":"#ff7f00"},{"offset":0.875,"color":"#ff0000"},{"offset":1,"color":"#7f0000"}]}},"encoding":{"x":{"datum":0,"type":"quantitative","scale":{"domain":[0,1]},"axis":null},"x2":{"datum":1},"y":{"field":"hi","type":"quantitative","scale":{"domain":[13,95.4],"nice":false,"zero":false},"axis":{"orient":"right","values":[20,30,40,50,60,70,80,90],"tickCount":20,"labelOverlap":false,"labelFontSize":9.5,"tickSize":0,"labelPadding":2,"title":"von Mises stress (MPa)","titleFontSize":11.2,"titleAngle":270,"titleBaseline":"middle","titleX":32,"titleY":58}},"y2":{"field":"lo"}}},
{"data":{"values":[{"t":"95.4","m":107.7,"d":"triangle-up"},{"t":"13","m":5.8,"d":"triangle-down"}]},"mark":{"type":"point","filled":true,"size":40,"color":"#111111","opacity":1},"encoding":{"x":{"datum":-0.2,"type":"quantitative"},"y":{"field":"m","type":"quantitative"},"shape":{"field":"d","type":"nominal","scale":null}}},
{"data":{"values":[{"t":"95.4","m":107.7},{"t":"13","m":5.8}]},"mark":{"type":"text","align":"left","fontSize":9.5,"color":"#444444"},"encoding":{"x":{"datum":0.8,"type":"quantitative"},"y":{"field":"m","type":"quantitative"},"text":{"field":"t"}}}
]}
],"spacing":10,"bounds":"flush","resolve":{"scale":{"color":"independent"}}},
{"hconcat":[
{"width":215,"height":150,
"encoding":{"x":{"field":"x","type":"quantitative","title":null,"scale":{"domain":[-11.5,11.24],"nice":false,"zero":false},"axis":{"values":[-10,-5,0,5,10],"tickSize":2,"tickColor":"#cccccc","labelPadding":0,"labelExpr":"replace(datum.label,'−','-')"}},"y":{"field":"y","type":"quantitative","title":null,"scale":{"domain":[-2.4,13.5],"nice":false,"zero":false},"axis":{"values":[-2,-1,0,1,2,3,4,5,6,7,8,9,10,11,12,13],"tickSize":2,"tickColor":"#cccccc","labelPadding":1,"labelExpr":"replace(datum.label,'−','-')"}}},
"layer":[
{"data":{"name":"cb"},"mark":{"type":"area","orient":"vertical"},"encoding":{"y2":{"datum":0},"detail":{"field":"k"},"color":{"field":"v","type":"quantitative","legend":null,"scale":{"domain":[19.1,150],"range":["#00007f","#0000ff","#007fff","#00ffff","#7fff7f","#ffff00","#ff7f00","#ff0000","#7f0000"]}}}},
{"data":{"name":"cm"},"mark":{"type":"area","orient":"vertical","fill":"white"},"encoding":{"y2":{"datum":-2.4}}},
{"data":{"values":[{"x":-11.5,"x2":11.24,"y":10.6,"y2":13.5}]},"mark":{"type":"rect","fill":"#c0c0c0"},"encoding":{"x2":{"field":"x2"},"y2":{"field":"y2"}}},
{"data":{"name":"w2"},"mark":{"type":"area","orient":"vertical","fill":"#c0c0c0","line":{"color":"#666666","strokeWidth":0.7}},"encoding":{"y2":{"datum":-2.4}}},
{"data":{"values":[{"x":0,"y":11.98,"t":"Au"},{"x":0,"y":-0.98,"t":"W"}]},"mark":{"type":"text","font":"Liberation Sans","fontSize":20,"color":"#111111"},"encoding":{"text":{"field":"t"}}},
{"data":{"values":[{"x":-14.23,"y":14.77,"t":"C"}]},"mark":{"type":"text","font":"Liberation Sans","fontSize":25,"color":"#111111"},"encoding":{"text":{"field":"t"}}},
{"data":{"values":[{"x":-0.54,"y":14.77,"t":"t=6s"}]},"mark":{"type":"text","fontSize":12,"color":"#222222"},"encoding":{"text":{"field":"t"}}}
]},
{"width":8,"height":123,"view":{"stroke":null},"layer":[
{"data":{"values":[{"lo":19.1,"hi":150}]},"mark":{"type":"rect","stroke":"#777777","strokeWidth":0.4,"fill":{"gradient":"linear","x1":0,"y1":1,"x2":0,"y2":0,"stops":[{"offset":0,"color":"#00007f"},{"offset":0.125,"color":"#0000ff"},{"offset":0.25,"color":"#007fff"},{"offset":0.375,"color":"#00ffff"},{"offset":0.5,"color":"#7fff7f"},{"offset":0.625,"color":"#ffff00"},{"offset":0.75,"color":"#ff7f00"},{"offset":0.875,"color":"#ff0000"},{"offset":1,"color":"#7f0000"}]}},"encoding":{"x":{"datum":0,"type":"quantitative","scale":{"domain":[0,1]},"axis":null},"x2":{"datum":1},"y":{"field":"hi","type":"quantitative","scale":{"domain":[19.1,150],"nice":false,"zero":false},"axis":{"orient":"right","values":[20,40,60,80,100,120,140],"tickCount":20,"labelOverlap":false,"labelFontSize":9.5,"tickSize":0,"labelPadding":2,"title":"von Mises stress (MPa)","titleFontSize":11.2,"titleAngle":270,"titleBaseline":"middle","titleX":31,"titleY":52}},"y2":{"field":"lo"}}},
{"data":{"values":[{"t":"150","m":169.5,"d":"triangle-up"},{"t":"19.1","m":8.8,"d":"triangle-down"}]},"mark":{"type":"point","filled":true,"size":40,"color":"#111111","opacity":1},"encoding":{"x":{"datum":-0.12,"type":"quantitative"},"y":{"field":"m","type":"quantitative"},"shape":{"field":"d","type":"nominal","scale":null}}},
{"data":{"values":[{"t":"150","m":169.5},{"t":"19.1","m":8.8}]},"mark":{"type":"text","align":"left","fontSize":9.5,"color":"#444444"},"encoding":{"x":{"datum":0.9,"type":"quantitative"},"y":{"field":"m","type":"quantitative"},"text":{"field":"t"}}}
]},
{"width":55,"height":150,"view":{"stroke":null},"data":{"values":[{"a":0}]},"mark":{"type":"point","opacity":0},"encoding":{}},
{"width":215,"height":150,
"encoding":{"x":{"field":"x","type":"quantitative","title":null,"scale":{"domain":[-11.49,11.26],"nice":false,"zero":false},"axis":{"values":[-10,-5,0,5,10],"tickSize":2,"tickColor":"#cccccc","labelPadding":0,"labelExpr":"replace(datum.label,'−','-')"}},"y":{"field":"y","type":"quantitative","title":null,"scale":{"domain":[-2.4,13.5],"nice":false,"zero":false},"axis":{"values":[-2,-1,0,1,2,3,4,5,6,7,8,9,10,11,12,13],"tickSize":2,"tickColor":"#cccccc","labelPadding":1,"labelExpr":"replace(datum.label,'−','-')"}}},
"layer":[
{"data":{"name":"db"},"mark":{"type":"area","orient":"vertical"},"encoding":{"y2":{"datum":0},"detail":{"field":"k"},"color":{"field":"v","type":"quantitative","legend":null,"scale":{"domain":[14.3,161],"range":["#00007f","#0000ff","#007fff","#00ffff","#7fff7f","#ffff00","#ff7f00","#ff0000","#7f0000"]}}}},
{"data":{"name":"di"},"mark":{"type":"area","orient":"vertical"},"encoding":{"y2":{"field":"b"},"detail":{"field":"k"},"color":{"field":"v","type":"quantitative","legend":null}}},
{"data":{"name":"dm"},"mark":{"type":"area","orient":"vertical","fill":"white"},"encoding":{"y2":{"datum":-2.4}}},
{"data":{"values":[{"x":-11.49,"x2":11.26,"y":10.77,"y2":13.5}]},"mark":{"type":"rect","fill":"#c0c0c0"},"encoding":{"x2":{"field":"x2"},"y2":{"field":"y2"}}},
{"data":{"name":"w2"},"mark":{"type":"area","orient":"vertical","fill":"#c0c0c0","line":{"color":"#666666","strokeWidth":0.7}},"encoding":{"y2":{"datum":-2.4}}},
{"data":{"values":[{"x":0,"y":11.98,"t":"Au"},{"x":0,"y":-0.98,"t":"W"}]},"mark":{"type":"text","font":"Liberation Sans","fontSize":20,"color":"#111111"},"encoding":{"text":{"field":"t"}}},
{"data":{"values":[{"x":-12.94,"y":14.77,"t":"D"}]},"mark":{"type":"text","font":"Liberation Sans","fontSize":25,"color":"#111111"},"encoding":{"text":{"field":"t"}}},
{"data":{"values":[{"x":-0.38,"y":14.77,"t":"t=8s"}]},"mark":{"type":"text","fontSize":12,"color":"#222222"},"encoding":{"text":{"field":"t"}}}
]},
{"width":8,"height":123,"view":{"stroke":null},"layer":[
{"data":{"values":[{"lo":14.3,"hi":161}]},"mark":{"type":"rect","stroke":"#777777","strokeWidth":0.4,"fill":{"gradient":"linear","x1":0,"y1":1,"x2":0,"y2":0,"stops":[{"offset":0,"color":"#00007f"},{"offset":0.125,"color":"#0000ff"},{"offset":0.25,"color":"#007fff"},{"offset":0.375,"color":"#00ffff"},{"offset":0.5,"color":"#7fff7f"},{"offset":0.625,"color":"#ffff00"},{"offset":0.75,"color":"#ff7f00"},{"offset":0.875,"color":"#ff0000"},{"offset":1,"color":"#7f0000"}]}},"encoding":{"x":{"datum":0,"type":"quantitative","scale":{"domain":[0,1]},"axis":null},"x2":{"datum":1},"y":{"field":"hi","type":"quantitative","scale":{"domain":[14.3,161],"nice":false,"zero":false},"axis":{"orient":"right","values":[20,40,60,80,100,120,140,160],"tickCount":20,"labelOverlap":false,"labelFontSize":9.5,"tickSize":0,"labelPadding":2,"title":"von Mises stress (MPa)","titleFontSize":11.2,"titleAngle":270,"titleBaseline":"middle","titleX":38,"titleY":63}},"y2":{"field":"lo"}}},
{"data":{"values":[{"t":"161","m":182.8,"d":"triangle-up"},{"t":"14.3","m":2.7,"d":"triangle-down"}]},"mark":{"type":"point","filled":true,"size":40,"color":"#111111","opacity":1},"encoding":{"x":{"datum":-0.12,"type":"quantitative"},"y":{"field":"m","type":"quantitative"},"shape":{"field":"d","type":"nominal","scale":null}}},
{"data":{"values":[{"t":"161","m":182.8},{"t":"14.3","m":2.7}]},"mark":{"type":"text","align":"left","fontSize":9.5,"color":"#444444"},"encoding":{"x":{"datum":0.9,"type":"quantitative"},"y":{"field":"m","type":"quantitative"},"text":{"field":"t"}}}
]}
],"spacing":10,"bounds":"flush","resolve":{"scale":{"color":"independent"}}}
],"spacing":11}
